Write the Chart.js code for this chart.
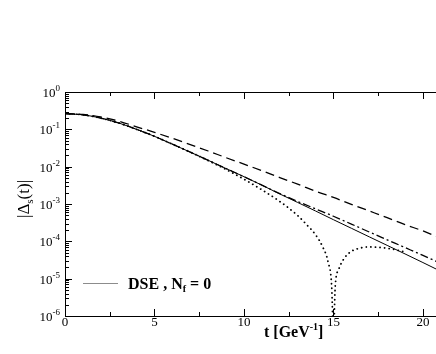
<!DOCTYPE html>
<html>
<head>
<meta charset="utf-8">
<script src="https://cdn.jsdelivr.net/npm/chart.js@4.4.1/dist/chart.umd.min.js"></script>
<style>
  html, body { margin: 0; padding: 0; background: #fff; }
  #wrap { width: 436px; height: 354px; position: relative; }
</style>
</head>
<body>
<div id="wrap"><canvas id="chartDelta"></canvas></div>
<script>
// t grid (GeV^-1) shared by the three smooth curves
const tGrid = [0, 1, 2, 3, 4, 5, 6, 7, 8, 9, 10, 11, 12, 13, 14, 15, 16, 17, 18, 19, 20, 20.75];

// long dashes (top curve)
const dashedVals = [0.263, 0.251, 0.214, 0.166, 0.117, 0.083, 0.0575, 0.0389, 0.0263, 0.0174, 0.0117,
  7.8e-3, 5.1e-3, 3.4e-3, 2.2e-3, 1.5e-3, 9.8e-4, 6.5e-4, 4.3e-4, 2.8e-4, 1.9e-4, 1.35e-4];

// thin solid (DSE, Nf = 0)
const solidVals = [0.263, 0.245, 0.2, 0.148, 0.1, 0.065, 0.04, 0.0245, 0.0148, 8.9e-3, 5.4e-3,
  3.2e-3, 1.86e-3, 1.1e-3, 6.5e-4, 3.8e-4, 2.24e-4, 1.32e-4, 7.8e-5, 4.6e-5, 2.7e-5, 1.8e-5];

// dash-dot
const dashDotVals = [0.263, 0.245, 0.2, 0.148, 0.1, 0.065, 0.04, 0.0245, 0.0148, 8.9e-3, 5.4e-3,
  3.2e-3, 1.9e-3, 1.17e-3, 7.4e-4, 4.7e-4, 2.9e-4, 1.78e-4, 1.1e-4, 6.8e-5, 4.2e-5, 2.9e-5];

// dotted curve, crosses zero near t = 15
const dottedT = [0, 1, 2, 3, 4, 5, 6, 7, 8, 9, 10, 11, 12, 13, 13.5, 14, 14.4, 14.7, 14.9, 15.0,
  15.1, 15.3, 15.6, 16, 16.5, 17, 17.5, 18, 18.5, 19];
const dottedVals = [0.263, 0.245, 0.2, 0.148, 0.1, 0.065, 0.04, 0.0245, 0.0146, 8.4e-3, 4.6e-3,
  2.4e-3, 1.17e-3, 4.9e-4, 2.8e-4, 1.5e-4, 7.1e-5, 2.8e-5, 6.3e-6, 3e-7,
  6.3e-6, 1.8e-5, 3.5e-5, 5.4e-5, 6.6e-5, 7.1e-5, 6.9e-5, 6.5e-5, 5.9e-5, 5.2e-5];

const xTicksMajor = [0, 5, 10, 15, 20];
const xTicksMinor = [2.5, 7.5, 12.5, 17.5];
const yDecades = [-6, -5, -4, -3, -2, -1, 0];

const toPts = (xs, ys) => xs.map((x, i) => ({ x: x, y: ys[i] }));

const SERIF = '"Liberation Serif", "DejaVu Serif", serif';

const framePlugin = {
  id: "frame",
  afterDraw(chart) {
    const { ctx, chartArea: a } = chart;
    const xs = chart.scales.x;
    const ys = chart.scales.y;
    ctx.save();
    ctx.strokeStyle = "#000";
    ctx.lineWidth = 1;

    // box
    ctx.beginPath();
    ctx.moveTo(a.left + 0.5, a.bottom + 0.5);
    ctx.lineTo(a.left + 0.5, a.top + 0.5);
    ctx.lineTo(a.right, a.top + 0.5);
    ctx.moveTo(a.left + 0.5, a.bottom + 0.5);
    ctx.lineTo(a.right, a.bottom + 0.5);
    ctx.stroke();

    // x ticks (bottom + top, inward)
    ctx.beginPath();
    xTicksMajor.forEach(v => {
      const px = Math.round(xs.getPixelForValue(v)) + 0.5;
      ctx.moveTo(px, a.bottom); ctx.lineTo(px, a.bottom - 7);
      ctx.moveTo(px, a.top); ctx.lineTo(px, a.top + 7);
    });
    xTicksMinor.forEach(v => {
      const px = Math.round(xs.getPixelForValue(v)) + 0.5;
      ctx.moveTo(px, a.bottom); ctx.lineTo(px, a.bottom - 4);
      ctx.moveTo(px, a.top); ctx.lineTo(px, a.top + 4);
    });
    // y ticks (left, inward)
    yDecades.forEach(d => {
      const py = Math.round(ys.getPixelForValue(Math.pow(10, d))) + 0.5;
      ctx.moveTo(a.left, py); ctx.lineTo(a.left + 7, py);
      if (d < 0) {
        for (let k = 2; k <= 9; k++) {
          const pm = Math.round(ys.getPixelForValue(k * Math.pow(10, d))) + 0.5;
          ctx.moveTo(a.left, pm); ctx.lineTo(a.left + 4, pm);
        }
      }
    });
    ctx.stroke();

    ctx.fillStyle = "#000";
    // x tick labels
    ctx.font = "13px " + SERIF;
    ctx.textAlign = "center";
    ctx.textBaseline = "alphabetic";
    xTicksMajor.forEach(v => {
      ctx.fillText(String(v), xs.getPixelForValue(v), a.bottom + 10);
    });

    // y tick labels 10^n
    yDecades.forEach(d => {
      const py = ys.getPixelForValue(Math.pow(10, d));
      const exp = d === 0 ? "0" : "-" + Math.abs(d);
      ctx.font = "9px " + SERIF;
      const ew = ctx.measureText(exp).width;
      ctx.textAlign = "left";
      ctx.fillText(exp, 60 - ew, py - 1);
      ctx.font = "13px " + SERIF;
      const bw = ctx.measureText("10").width;
      ctx.fillText("10", 60 - ew - bw, py + 5);
    });

    // x title: t [GeV^-1]
    ctx.textAlign = "left";
    ctx.font = "bold 16px " + SERIF;
    let x0 = 264;
    const base = 337;
    ctx.fillText("t [GeV", x0, base);
    x0 += ctx.measureText("t [GeV").width;
    ctx.font = "bold 10px " + SERIF;
    ctx.fillText("-1", x0, base - 7);
    x0 += ctx.measureText("-1").width;
    ctx.font = "bold 16px " + SERIF;
    ctx.fillText("]", x0, base);

    // y title: |Δs(t)|
    ctx.save();
    ctx.translate(29, 218);
    ctx.rotate(-Math.PI / 2);
    ctx.font = "17px " + SERIF;
    let yx = 0;
    ctx.fillText("|Δ", yx, 0);
    yx += ctx.measureText("|Δ").width;
    ctx.font = "11px " + SERIF;
    ctx.fillText("s", yx, 4);
    yx += ctx.measureText("s").width;
    ctx.font = "17px " + SERIF;
    ctx.fillText("(t)|", yx, 0);
    ctx.restore();

    // legend
    ctx.strokeStyle = "#8c8c8c";
    ctx.lineWidth = 1;
    ctx.beginPath();
    ctx.moveTo(83, 283.5); ctx.lineTo(118, 283.5);
    ctx.stroke();
    ctx.font = "bold 16px " + SERIF;
    let lx = 128;
    const lb = 289;
    ctx.fillText("DSE , N", lx, lb);
    lx += ctx.measureText("DSE , N").width;
    ctx.font = "bold 10px " + SERIF;
    ctx.fillText("f", lx, lb + 3);
    lx += ctx.measureText("f").width + 4;
    ctx.font = "bold 16px " + SERIF;
    ctx.fillText("= 0", lx, lb);

    ctx.restore();
  },
};

const ctxDelta = document.getElementById("chartDelta");

new Chart(ctxDelta, {
  type: "line",
  data: {
    datasets: [
      { label: "dashed", data: toPts(tGrid, dashedVals), borderColor: "#000", borderWidth: 1.3, borderDash: [9, 5] },
      { label: "DSE, Nf = 0", data: toPts(tGrid, solidVals), borderColor: "#000", borderWidth: 1 },
      { label: "dash-dot", data: toPts(tGrid, dashDotVals), borderColor: "#000", borderWidth: 1.3, borderDash: [8, 3, 2, 3] },
      { label: "dotted", data: toPts(dottedT, dottedVals), borderColor: "#000", borderWidth: 1.8, borderDash: [0.1, 4.5], borderCapStyle: "round" },
    ],
  },
  options: {
    responsive: true,
    maintainAspectRatio: false,
    animation: false,
    layout: { padding: { left: 65, top: 92, right: 0, bottom: 38 } },
    elements: { point: { radius: 0 }, line: { tension: 0, cubicInterpolationMode: "monotone" } },
    plugins: { legend: { display: false }, tooltip: { enabled: false } },
    scales: {
      x: { type: "linear", min: 0, max: 20.73, display: false },
      y: { type: "logarithmic", min: 1e-6, max: 1, display: false },
    },
  },
  plugins: [framePlugin],
});
</script>
</body>
</html>
